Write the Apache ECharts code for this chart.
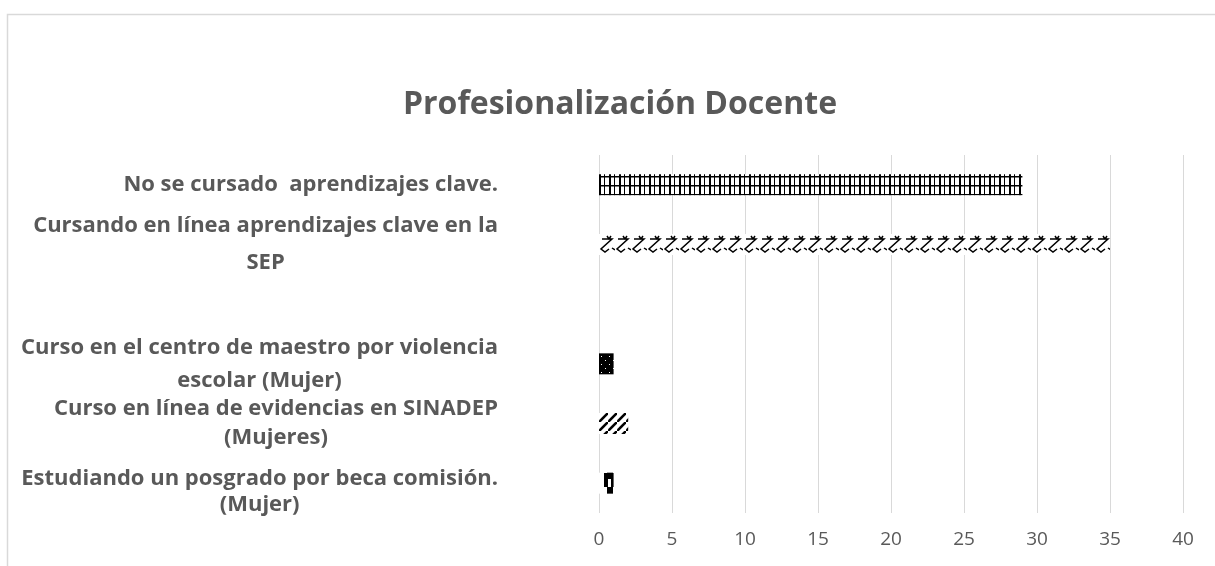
<!DOCTYPE html>
<html>
<head>
<meta charset="utf-8">
<style>
  html, body { margin: 0; padding: 0; background: #fff; }
  #chart { width: 1215px; height: 566px; }
</style>
<script src="https://cdn.jsdelivr.net/npm/echarts@6/dist/echarts.min.js"></script>
</head>
<body>
<div id="chart"></div>
<script>
const titleText = "Profesionalización Docente";
const categories = [
  "No se cursado  aprendizajes clave.",
  "Cursando en línea aprendizajes clave en la\nSEP",
  "",
  "Curso en el centro de maestro por violencia\nescolar (Mujer)",
  "Curso en línea de evidencias en SINADEP\n(Mujeres)",
  "Estudiando un posgrado por beca comisión.\n(Mujer)",
];
const values = [29, 35, null, 1, 2, 1];
const xTicks = [0, 5, 10, 15, 20, 25, 30, 35, 40];

const chartEl = document.getElementById("chart");
const chart = echarts.init(chartEl);

const gridLeft = 599;
const gridTop = 155;
const gridBottom = 53;
const barWidth = 21;
const band = (566 - gridTop - gridBottom) / categories.length;

// Excel-like pattern fills, one per bar
function makeTile(w, h, draw) {
  const c = document.createElement("canvas");
  c.width = w;
  c.height = h;
  const ctx = c.getContext("2d");
  ctx.fillStyle = "#fff";
  ctx.fillRect(0, 0, w, h);
  ctx.fillStyle = "#000";
  ctx.strokeStyle = "#000";
  draw(ctx);
  return c;
}

const gridTile = makeTile(10, 9, (ctx) => {
  ctx.fillRect(0, 0, 2, 9);
  ctx.fillRect(5, 0, 1, 9);
  ctx.fillRect(0, 2, 10, 1.5);
});

const zigTile = makeTile(16, 21, (ctx) => {
  ctx.lineWidth = 1.5;
  ctx.beginPath();
  // small tick on top
  ctx.moveTo(8, 2);
  ctx.lineTo(10, 5);
  ctx.lineTo(12, 2);
  // top of the Z
  ctx.moveTo(3, 5);
  ctx.lineTo(13, 5);
  // diagonal
  ctx.lineTo(2, 15);
  // rounded bottom joining the next one
  ctx.lineTo(6, 18);
  ctx.lineTo(10, 15);
  ctx.moveTo(13, 14);
  ctx.lineTo(16, 16);
  ctx.stroke();
});

const solidTile = makeTile(8, 8, (ctx) => {
  ctx.fillRect(0, 0, 8, 8);
  ctx.fillStyle = "#fff";
  ctx.fillRect(2, 3, 1, 1);
  ctx.fillRect(6, 7, 1, 1);
});

const stripeTile = makeTile(9, 9, (ctx) => {
  ctx.lineWidth = 2.6;
  ctx.beginPath();
  ctx.moveTo(-3, 12);
  ctx.lineTo(12, -3);
  ctx.stroke();
});

const diamondTile = makeTile(16, 21, (ctx) => {
  ctx.fillRect(5, 0, 11, 6);
  ctx.fillRect(5, 6, 4, 8);
  ctx.fillRect(12, 6, 4, 8);
  ctx.fillRect(8, 14, 6, 7);
});

const tiles = [gridTile, zigTile, null, solidTile, stripeTile, diamondTile];

const labelGray = "#595959";
const lineHeights = [36, 37, 30, 33, 29, 26];
const topPad = [0, 0, 0, 0, 0, 17];
const rich = {};
lineHeights.forEach((lh, i) => {
  rich["s" + i] = {
    align: "center",
    lineHeight: lh,
    padding: [topPad[i], 0, 0, 0],
    fontFamily: "Open Sans",
    fontWeight: "bold",
    fontSize: 22,
    color: labelGray,
  };
});

const chartOption = {
  animation: false,
  title: {
    text: titleText,
    left: 615,
    textAlign: "center",
    top: 84,
    textStyle: {
      fontFamily: "Open Sans",
      fontWeight: "bold",
      fontSize: 32,
      color: labelGray,
    },
  },
  graphic: [
    {
      type: "rect",
      shape: { x: 7.5, y: 14.5, width: 1300, height: 700 },
      style: { fill: "none", stroke: "#d9d9d9", lineWidth: 1.5 },
      silent: true,
    },
  ],
  grid: {
    left: gridLeft,
    right: 32,
    top: gridTop,
    bottom: gridBottom,
  },
  xAxis: {
    type: "value",
    min: 0,
    max: 40,
    interval: 5,
    axisLine: { show: false },
    axisTick: { show: false },
    axisLabel: {
      margin: 17,
      fontFamily: "Open Sans",
      fontSize: 19,
      color: labelGray,
      formatter: (v) => (xTicks.includes(v) ? String(v) : ""),
    },
    splitLine: {
      show: true,
      lineStyle: { color: "#d9d9d9", width: 1 },
    },
  },
  yAxis: {
    type: "category",
    inverse: true,
    data: categories,
    axisLine: { show: false },
    axisTick: { show: false },
    axisLabel: {
      align: "right",
      margin: 101,
      interval: 0,
      rich: rich,
      formatter: function (value, index) {
        if (!value) return "";
        return value
          .split("\n")
          .map((line) => `{s${index}|${line}}`)
          .join("\n");
      },
    },
  },
  series: [
    {
      type: "bar",
      barWidth: barWidth,
      data: values.map((v, i) => ({
        value: v,
        itemStyle: tiles[i]
          ? {
              color: {
                image: tiles[i],
                repeat: "repeat",
                x: gridLeft,
                y: Math.round(gridTop + (i + 0.5) * band - barWidth / 2),
              },
            }
          : {},
      })),
    },
  ],
};

chart.setOption(chartOption);

window.addEventListener("resize", () => {
  chart.resize();
});
</script>
</body>
</html>
